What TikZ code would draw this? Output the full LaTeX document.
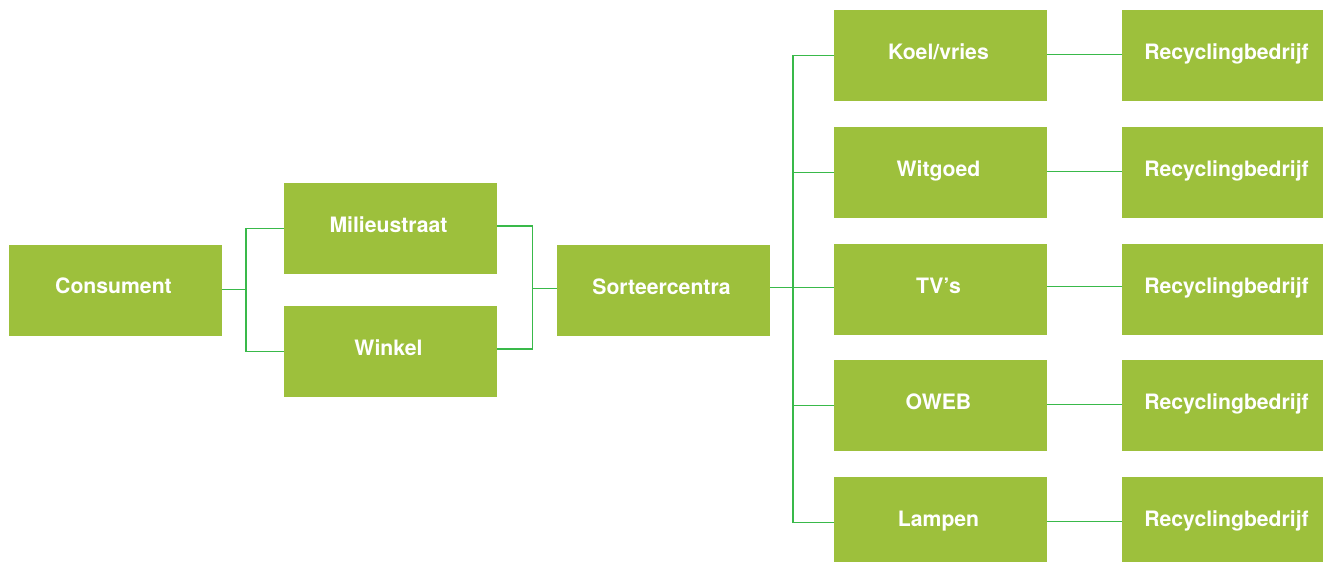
\documentclass[tikz,border=0pt]{standalone}
\usepackage{fontspec}
\setmainfont{TeX Gyre Heros}
\usetikzlibrary{calc}
\definecolor{boxgreen}{RGB}{157,192,60}
\definecolor{linegreen}{RGB}{57,185,74}
\begin{document}
\begin{tikzpicture}[x=1pt,y=-1pt,
  box/.style={fill=boxgreen, draw=none, minimum width=213pt, minimum height=91pt,
    inner sep=0pt, text=white, font=\fontsize{21.2}{25}\selectfont\bfseries,
    text height=15pt, text depth=8pt, execute at end node={\hspace{4pt}}},
  link/.style={draw=linegreen, line width=1.2pt}]
\useasboundingbox (0,0) rectangle (1323,562);
\clip (0,0) rectangle (1323,562);
% nodes
\node[box] (con) at (115.5,290.3) {Consument};
\node[box] (mil) at (390.5,228.5) {Milieustraat};
\node[box] (win) at (390.5,351.5) {Winkel};
\node[box] (sor) at (663.5,290.5) {Sorteercentra};
\node[box] (koel) at (940.5,55.5) {Koel/vries};
\node[box] (wit) at (940.5,172.5) {Witgoed};
\node[box] (tv) at (940.5,289.5) {TV’s};
\node[box] (oweb) at (940.5,405.5) {OWEB};
\node[box] (lamp) at (940.5,522.5) {Lampen};
\node[box] (r1) at (1228.5,55.5) {Recyclingbedrijf};
\node[box] (r2) at (1228.5,172.5) {Recyclingbedrijf};
\node[box] (r3) at (1228.5,289.5) {Recyclingbedrijf};
\node[box] (r4) at (1228.5,405.5) {Recyclingbedrijf};
\node[box] (r5) at (1228.5,522.5) {Recyclingbedrijf};
% junctions
\coordinate (j1) at (246,289.5);
\coordinate (j2) at (532.5,288.5);
\coordinate (j3) at (793,287.5);
% connectors
\draw[link] (con.east |- j1) -- (j1);
\draw[link] (mil.west) -| (j1) |- (win.west);
\draw[link] ($(mil.east)+(0,-2.5)$) -| (j2) |- ($(win.east)+(0,-2.5)$);
\draw[link] (j2) -- (sor.west |- j2);
\draw[link] (sor.east |- j3) -- (j3);
\draw[link] (koel.west) -| (j3) |- (lamp.west);
\draw[link] (j3 |- wit.west) -- (wit.west);
\draw[link] ($(j3 |- tv.west)+(0,-2)$) -- ($(tv.west)+(0,-2)$);
\draw[link] (j3 |- oweb.west) -- (oweb.west);
\draw[link] ($(koel.east)+(0,-1)$) -- ($(r1.west)+(0,-1)$);
\draw[link] ($(wit.east)+(0,-1)$) -- ($(r2.west)+(0,-1)$);
\draw[link] ($(tv.east)+(0,-3)$) -- ($(r3.west)+(0,-3)$);
\draw[link] ($(oweb.east)+(0,-1)$) -- ($(r4.west)+(0,-1)$);
\draw[link] ($(lamp.east)+(0,-1)$) -- ($(r5.west)+(0,-1)$);
\end{tikzpicture}
\end{document}
